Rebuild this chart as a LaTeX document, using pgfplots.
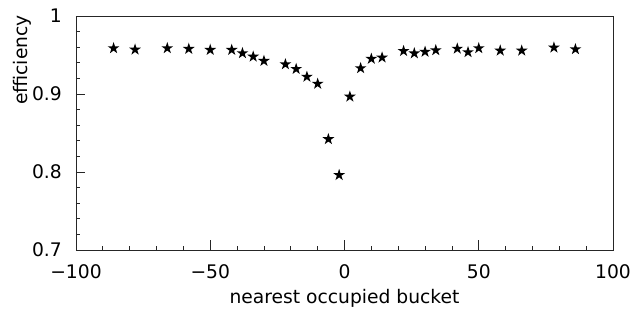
\documentclass[border=0pt]{standalone}
\usepackage{fontspec}
\setmainfont{DejaVu Sans}
\usepackage{pgfplots}
\pgfplotsset{compat=1.18}
\pgfdeclareplotmark{fstar}{%
  \pgfpathmoveto{\pgfqpointpolar{90}{\pgfplotmarksize}}%
  \pgfpathlineto{\pgfqpointpolar{126}{0.382\pgfplotmarksize}}%
  \pgfpathlineto{\pgfqpointpolar{162}{\pgfplotmarksize}}%
  \pgfpathlineto{\pgfqpointpolar{198}{0.382\pgfplotmarksize}}%
  \pgfpathlineto{\pgfqpointpolar{234}{\pgfplotmarksize}}%
  \pgfpathlineto{\pgfqpointpolar{270}{0.382\pgfplotmarksize}}%
  \pgfpathlineto{\pgfqpointpolar{306}{\pgfplotmarksize}}%
  \pgfpathlineto{\pgfqpointpolar{342}{0.382\pgfplotmarksize}}%
  \pgfpathlineto{\pgfqpointpolar{18}{\pgfplotmarksize}}%
  \pgfpathlineto{\pgfqpointpolar{54}{0.382\pgfplotmarksize}}%
  \pgfpathclose
  \pgfusepathqfill}
\begin{document}
\begin{tikzpicture}[font=\fontsize{18.7bp}{22bp}\selectfont]
\begin{axis}[
  scale only axis,
  width=537bp, height=234bp,
  xmin=-100, xmax=100, ymin=0.7, ymax=1,
  axis line style={line width=0.8bp, black!85},
  tick pos=left, tick align=inside,
  every tick/.style={line width=0.8bp, black!85},
  major tick length=9.5bp, minor tick length=4bp,
  xtick={-100,-50,0,50,100},
  xticklabels={−100,−50,0,50,100},
  minor xtick={-90,-80,...,90},
  ytick={0.7,0.8,0.9,1},
  yticklabels={0.7,0.8,0.9,1},
  minor ytick={0.72,0.74,0.76,0.78,0.82,0.84,0.86,0.88,0.92,0.94,0.96,0.98},
  xticklabel style={inner sep=0pt, yshift=-15bp},
  yticklabel style={inner sep=0pt, xshift=-14bp},
  xlabel={\smash{nearest occupied bucket}},
  xlabel style={at={(axis description cs:0.5,-0.2308)}, anchor=base, inner sep=0pt},
  ylabel={efficiency},
  ylabel style={at={(axis description cs:-0.0912,1.004)}, anchor=base east, inner sep=0pt},
  clip=false,
]
\addplot[only marks, mark=fstar, mark size=6.2bp, black] coordinates {
(-86,0.9586) (-78,0.9568) (-66,0.9586) (-58,0.9577) (-50,0.9564)
(-42,0.9564) (-38,0.9522) (-34,0.9478) (-30,0.9423)
(-22,0.938) (-18,0.932) (-14,0.922) (-10,0.913) (-6,0.842) (-2,0.796)
(2,0.8965) (6,0.933) (10,0.945) (14,0.9466)
(22,0.955) (26,0.952) (30,0.954) (34,0.956) (42,0.958) (46,0.9535)
(50,0.9586) (58,0.9555) (66,0.9555) (78,0.9594) (86,0.9573)
};
\path (axis description cs:-0.1415,-0.252) rectangle (axis description cs:1.0428,1.068);
\end{axis}
\end{tikzpicture}
\end{document}
